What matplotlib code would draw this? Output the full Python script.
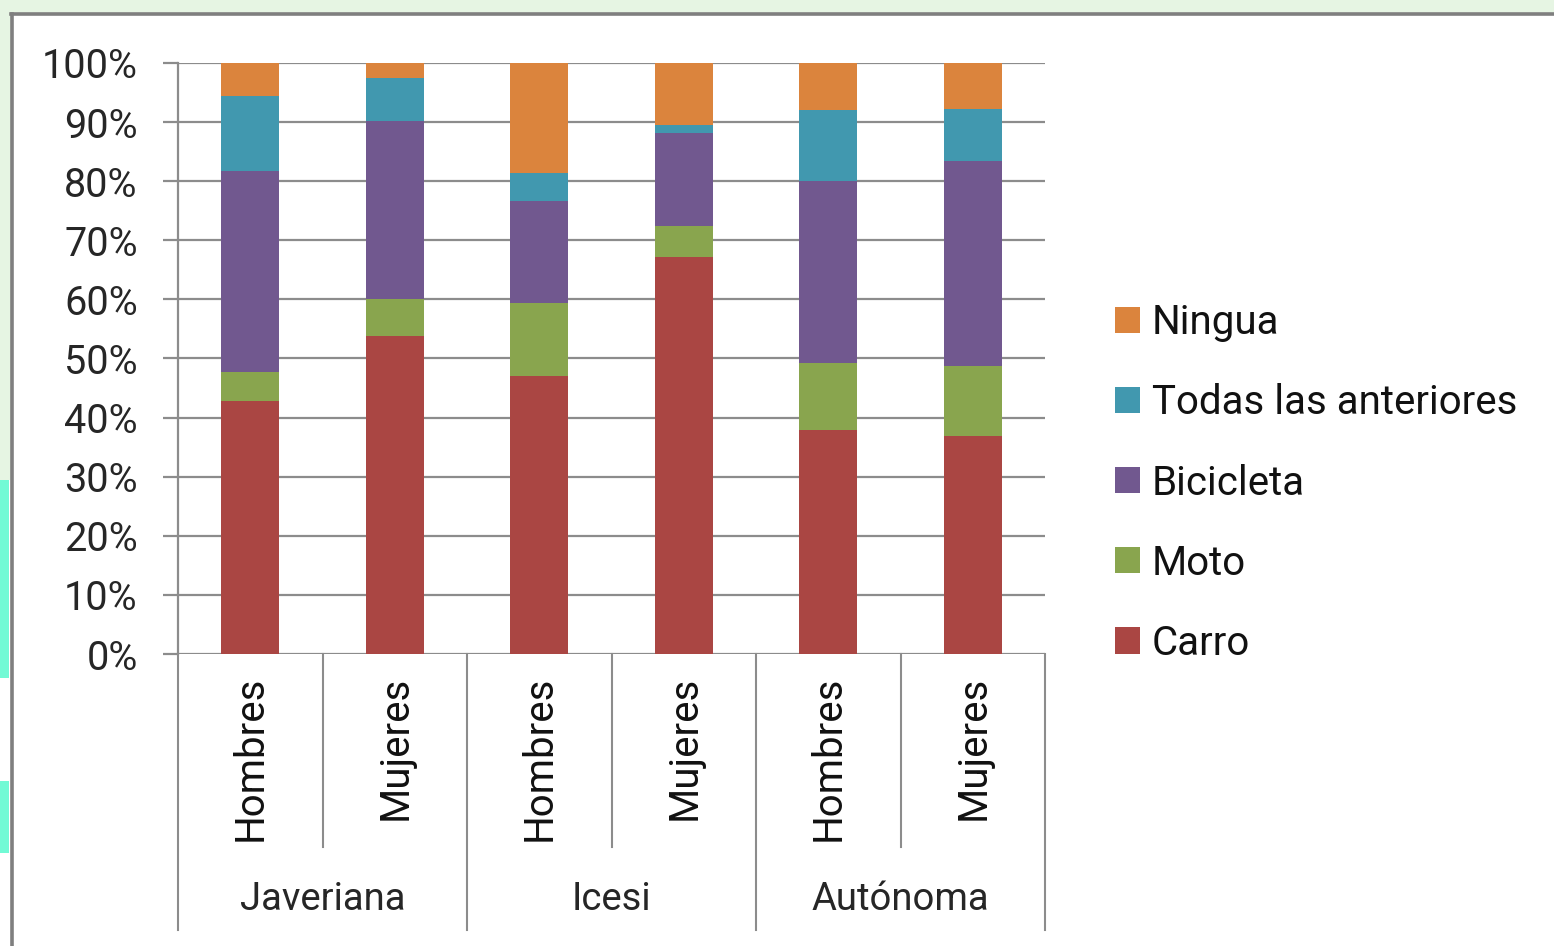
import matplotlib
matplotlib.use("Agg")
import matplotlib.pyplot as plt
from matplotlib.patches import Rectangle, Patch
import numpy as np

plt.rcParams['font.family'] = ['Roboto', 'DejaVu Sans']

# ---- data ----
groups = ["Javeriana", "Icesi", "Autónoma"]
subgroups = ["Hombres", "Mujeres"]
series_names = ["Carro", "Moto", "Bicicleta", "Todas las anteriores", "Ningua"]
carro = [42.8, 53.8, 47.0, 67.2, 37.9, 36.9]
moto = [5.0, 6.3, 12.4, 5.3, 11.3, 11.9]
bicicleta = [33.9, 30.1, 17.3, 15.6, 30.8, 34.7]
todas = [12.7, 7.2, 4.7, 1.4, 12.0, 8.8]
ningua = [5.6, 2.6, 18.6, 10.5, 8.0, 7.7]
yticks = [0, 10, 20, 30, 40, 50, 60, 70, 80, 90, 100]
ytick_labels = [f"{v}%" for v in yticks]

colors = ["#AA4643", "#89A54E", "#71588F", "#4198AF", "#DB843D"]
series = [carro, moto, bicicleta, todas, ningua]

W, H = 1554, 946
fig = plt.figure(figsize=(W / 100, H / 100), dpi=100)
fig.patch.set_facecolor("white")

# background decorations (figure pixel coordinates)
def fpx(x0, y0, x1, y1, **kw):
    r = Rectangle((x0 / W, 1 - y1 / H), (x1 - x0) / W, (y1 - y0) / H,
                  transform=fig.transFigure, **kw)
    fig.patches.append(r)

fpx(0, 0, W, 13, facecolor="#E6F5E3", edgecolor="none", zorder=0)
fpx(0, 0, 11, 480, facecolor="#E6F5E3", edgecolor="none", zorder=0)
fpx(0, 480, 9, 678, facecolor="#72FAD5", edgecolor="none", zorder=0)
fpx(0, 781, 9, 853, facecolor="#72FAD5", edgecolor="none", zorder=0)
# frame lines
fig.lines.append(plt.Line2D([11 / W, 1], [1 - 14 / H, 1 - 14 / H], transform=fig.transFigure,
                            color="#7F7F7F", lw=2.6, zorder=1))
fig.lines.append(plt.Line2D([11.5 / W, 11.5 / W], [0, 1 - 14 / H], transform=fig.transFigure,
                            color="#7F7F7F", lw=2.6, zorder=1))

left, right = 178 / W, 1045 / W
bottom, top = 1 - 654 / H, 1 - 63 / H
ax = fig.add_axes([left, bottom, right - left, top - bottom])
ax.set_facecolor("none")

x = np.arange(len(carro))
base = np.zeros(len(carro))
handles = []
for name, vals, c in zip(series_names, series, colors):
    ax.bar(x, vals, bottom=base, width=0.4, color=c, edgecolor="none", zorder=3, label=name)
    base = base + np.array(vals)
    handles.append(Patch(facecolor=c, edgecolor="none", label=name))

ax.set_xlim(-0.5, len(carro) - 0.5)
ax.set_ylim(0, 100)
ax.set_yticks(yticks)
ax.set_yticklabels(ytick_labels, fontsize=28.5, color="#262626")
ax.yaxis.grid(True, color="#8C8C8C", lw=1.6, zorder=1)
ax.tick_params(axis="y", length=11, width=1.6, color="#8C8C8C", pad=18)
ax.set_xticks([])
for s in ["top", "right", "bottom"]:
    ax.spines[s].set_visible(False)
ax.spines["left"].set_color("#8C8C8C")
ax.spines["left"].set_linewidth(1.6)

# multilevel category axis
tr = ax.get_xaxis_transform()
ax_h = 654 - 63
y_inner = -(847 - 654) / ax_h
y_outer = -(930 - 654) / ax_h
sep_color = "#8C8C8C"
n = len(carro)
for b in range(n + 1):
    xb = b - 0.5
    yend = y_outer if b % 2 == 0 else y_inner
    ax.plot([xb, xb], [0, yend], transform=tr, color=sep_color, lw=1.5, clip_on=False)

y_sub = -(676 - 654) / ax_h
for i in range(n):
    ax.text(x[i], y_sub, subgroups[i % 2], transform=tr, rotation=90,
            ha="center", va="top", fontsize=29, color="#111111")

y_grp = -(900 - 654) / ax_h
for g, name in enumerate(groups):
    ax.text(2 * g + 0.5, y_grp, name, transform=tr, ha="center", va="center",
            fontsize=27.5, color="#262626")

# legend
leg = fig.legend(handles=handles[::-1], loc="center left",
                 bbox_to_anchor=(1115 / W, 1 - 483 / H), frameon=False,
                 fontsize=29, handlelength=0.62, handleheight=0.62,
                 handletextpad=0.3, labelspacing=1.02, borderpad=0, borderaxespad=0)
for t in leg.get_texts():
    t.set_color("#111111")

fig.savefig("out.png", dpi=100, facecolor="white")
